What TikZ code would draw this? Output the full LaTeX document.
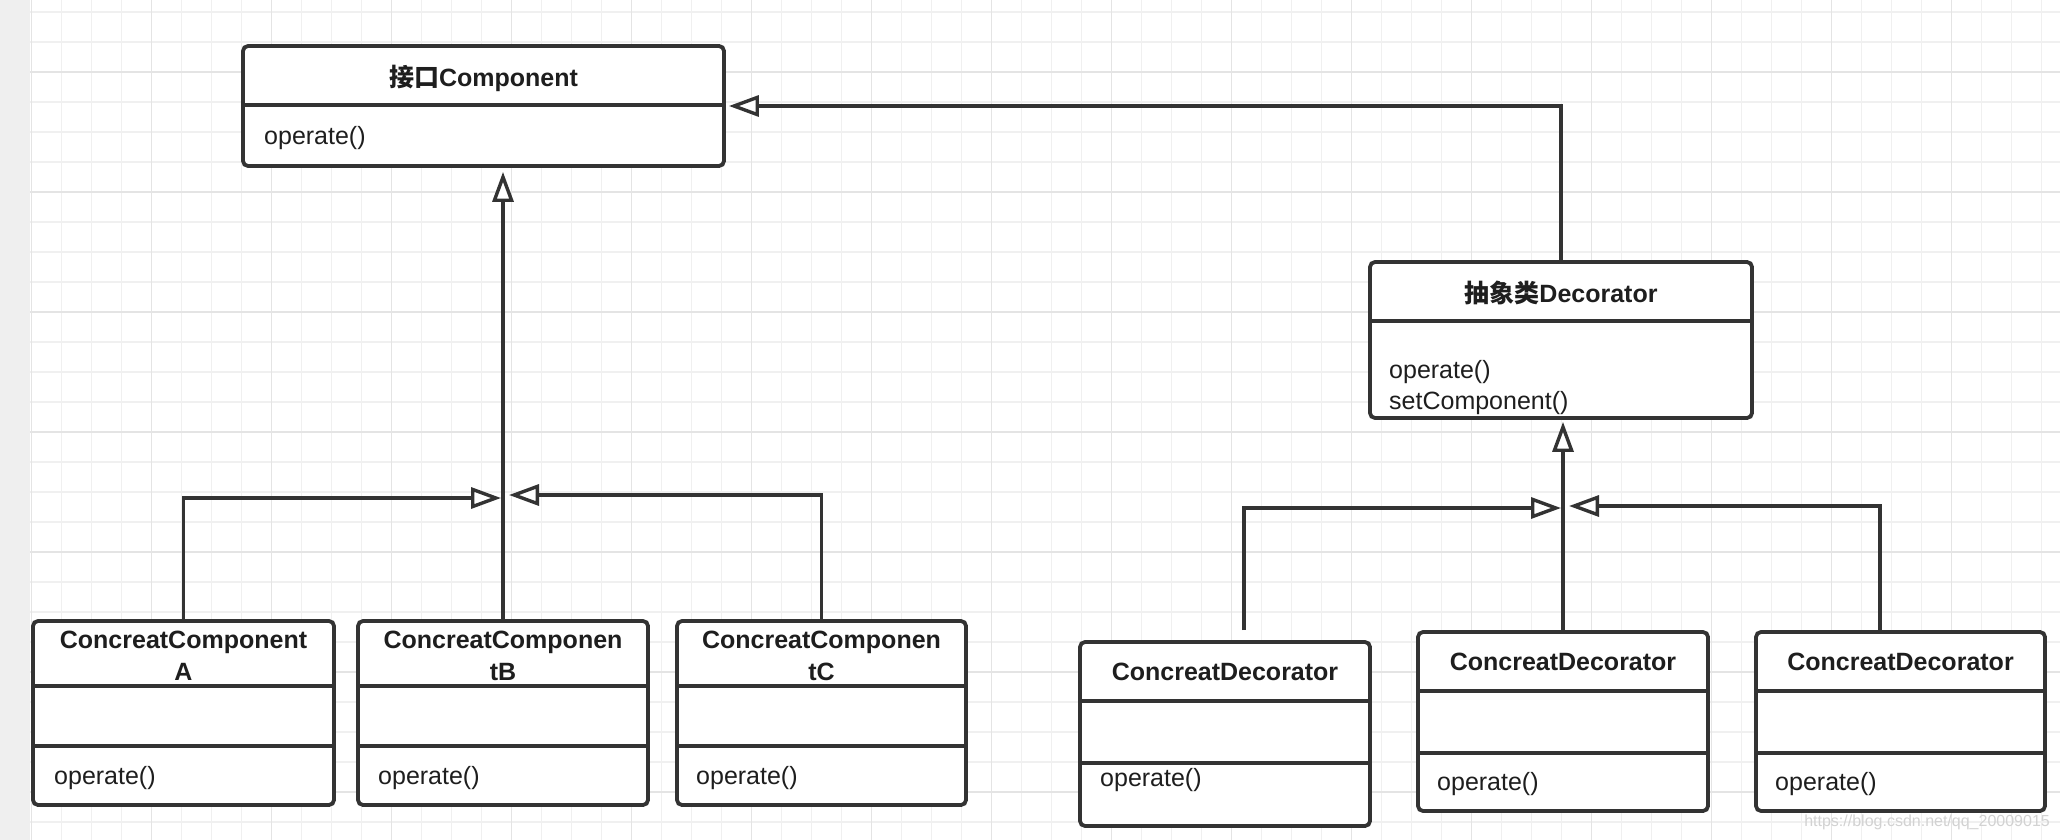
\documentclass[tikz,border=0pt]{standalone}
\usepackage{fontspec}
\setmainfont{Liberation Sans}
\newfontfamily\cjk{Noto Sans CJK SC}
\usetikzlibrary{arrows.meta}
\definecolor{ln}{HTML}{333333}
\definecolor{txt}{HTML}{1E1E1E}
\definecolor{gridminor}{HTML}{F0F0F0}
\definecolor{gridmajor}{HTML}{E4E4E4}
\definecolor{strip}{HTML}{EFEFEF}
\definecolor{wm}{HTML}{D2D2D2}
\begin{document}
\begin{tikzpicture}[x=1pt,y=-1pt,
  cls/.style={draw=ln, line width=3.8pt, rounded corners=5pt, fill=white, inner sep=0pt},
  div/.style={draw=ln, line width=3.8pt},
  title/.style={font=\fontsize{25}{32}\selectfont\bfseries, align=center, inner sep=0pt, text=txt},
  meth/.style={font=\fontsize{25}{30}\selectfont, anchor=west, inner sep=0pt, text=txt},
  inh/.style={draw=ln, line width=3.4pt, -{Triangle[fill=white, length=30pt, width=21pt]}},
  gmin/.style={draw=gridminor, line width=1.2pt},
  gmaj/.style={draw=gridmajor, line width=1.5pt}]
\useasboundingbox (0,0) rectangle (2060,840);
% background
\fill[white] (0,0) rectangle (2060,840);
\foreach \i in {0,...,67} {\draw[gmin] ({31.5+30*\i},0) -- ({31.5+30*\i},840);}
\foreach \j in {0,...,27} {\draw[gmin] (30,{12+30*\j}) -- (2060,{12+30*\j});}
\foreach \i in {0,...,16} {\draw[gmaj] ({31.5+120*\i},0) -- ({31.5+120*\i},840);}
\foreach \j in {0,...,6} {\draw[gmaj] (30,{72+120*\j}) -- (2060,{72+120*\j});}
\fill[strip] (0,0) rectangle (30,840);

% ---------- Component ----------
\node[cls, minimum width=481pt, minimum height=120pt] (comp) at (483.5,106) {};
\draw[div] (243,105) -- (724,105);
\node[title] (compt) at (483.5,78) {{\cjk\bfseries 接口}Component};
\node[meth] (compm) at (264,138) {operate()};

% ---------- Decorator ----------
\node[cls, minimum width=382pt, minimum height=156pt] (dec) at (1561,340) {};
\draw[div] (1370,321) -- (1752,321);
\node[title] (dect) at (1561,293) {{\cjk\bfseries 抽象类}Decorator};
\node[meth] (decm1) at (1389,372) {operate()};
\node[meth] (decm2) at (1389,403) {setComponent()};

% ---------- Concrete components ----------
\node[cls, minimum width=301pt, minimum height=184pt] (A) at (183.5,713) {};
\draw[div] (33,686) -- (334,686);
\draw[div] (33,746) -- (334,746);
\node[title] (At) at (183.5,656) {ConcreatComponent\\A};
\node[meth] (Am) at (54,778) {operate()};

\node[cls, minimum width=290pt, minimum height=184pt] (B) at (503,713) {};
\draw[div] (358,686) -- (648,686);
\draw[div] (358,746) -- (648,746);
\node[title] (Bt) at (503,656) {ConcreatComponen\\tB};
\node[meth] (Bm) at (378,778) {operate()};

\node[cls, minimum width=289pt, minimum height=184pt] (C) at (821.5,713) {};
\draw[div] (677,686) -- (966,686);
\draw[div] (677,746) -- (966,746);
\node[title] (Ct) at (821.5,656) {ConcreatComponen\\tC};
\node[meth] (Cm) at (696,778) {operate()};

% ---------- Concrete decorators ----------
\node[cls, minimum width=290pt, minimum height=184pt] (D1) at (1225,734) {};
\draw[div] (1080,701) -- (1370,701);
\draw[div] (1080,763) -- (1370,763);
\node[title] (D1t) at (1225,672) {ConcreatDecorator};
\node[meth] (D1m) at (1100,780) {operate()};

\node[cls, minimum width=290pt, minimum height=179pt] (D2) at (1563,721.5) {};
\draw[div] (1418,691) -- (1708,691);
\draw[div] (1418,753) -- (1708,753);
\node[title] (D2t) at (1563,662) {ConcreatDecorator};
\node[meth] (D2m) at (1437,784) {operate()};

\node[cls, minimum width=289pt, minimum height=179pt] (D3) at (1900.5,721.5) {};
\draw[div] (1756,691) -- (2045,691);
\draw[div] (1756,753) -- (2045,753);
\node[title] (D3t) at (1900.5,662) {ConcreatDecorator};
\node[meth] (D3m) at (1775,784) {operate()};

% ---------- connectors ----------
\coordinate (ja) at (501,498);
\coordinate (jc) at (509,495);
\coordinate (jd1) at (1561,508);
\coordinate (jd3) at (1569,506);

\draw[inh] (dec.north) |- ([xshift=3pt]comp.east);
\draw[inh] (B.north) -- ([yshift=-4pt]B.north |- comp.south);
\draw[inh] (A.north) |- (ja);
\draw[inh] (C.north) |- (jc);

\draw[inh] ([xshift=19pt,yshift=10pt]D1.north) |- (jd1);
\draw[inh] (D2.north) -- ([yshift=-2pt]D2.north |- dec.south);
\draw[inh] ([xshift=-20.5pt]D3.north) |- (jd3);

% watermark
\node[font=\fontsize{16}{20}\selectfont, text=wm, anchor=east, inner sep=0pt] (wmk) at (2050,822) {https://blog.csdn.net/qq\_20009015};
\end{tikzpicture}
\end{document}
